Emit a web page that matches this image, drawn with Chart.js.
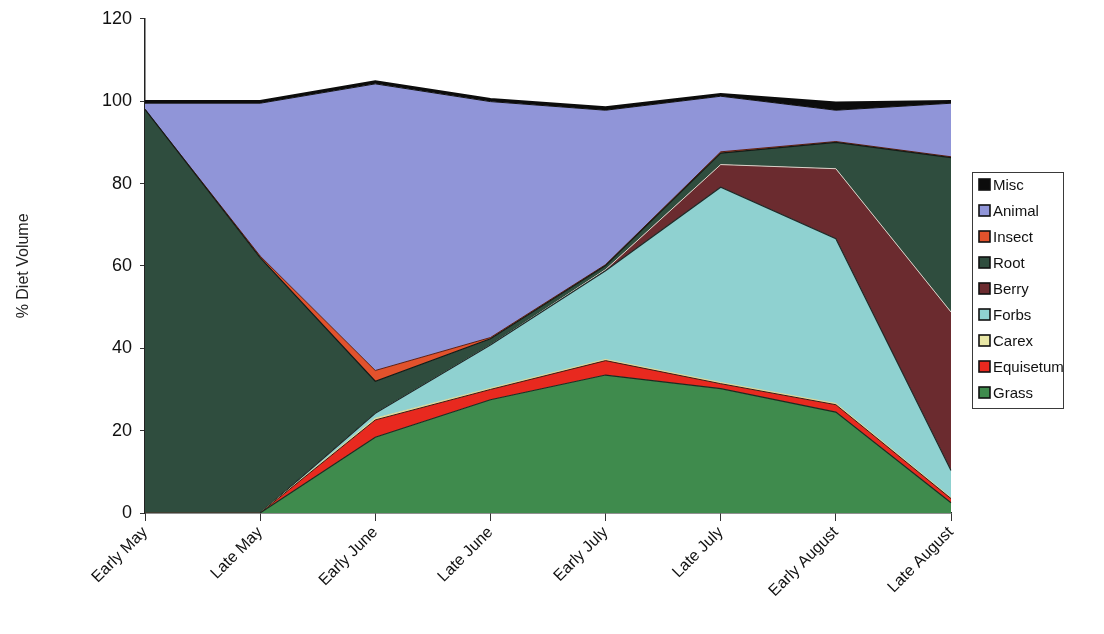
<!DOCTYPE html>
<html>
<head>
<meta charset="utf-8">
<title>% Diet Volume</title>
<script src="https://cdn.jsdelivr.net/npm/chart.js@4.4.1/dist/chart.umd.min.js"></script>
<style>
  html, body { margin: 0; padding: 0; background: #ffffff; }
  #wrap { width: 1104px; height: 634px; position: relative; }
</style>
</head>
<body>
<div id="wrap"><canvas id="chart" width="1104" height="634"></canvas></div>
<script>
// Half-month sampling periods
const categories = ['Early May', 'Late May', 'Early June', 'Late June', 'Early July', 'Late July', 'Early August', 'Late August'];

// Percent of diet volume per food class, stacked bottom to top
const grass     = [0, 0, 18.4, 27.5, 33.5, 30.2, 24.5, 2.5];
const equisetum = [0, 0, 4.2, 2.5, 3.5, 1.2, 1.8, 1.0];
const carex     = [0, 0, 0.4, 0.3, 0.3, 0.3, 0.3, 0.2];
const forbs     = [0, 0, 1.2, 10.5, 21.5, 47.4, 40.0, 6.6];
const berry     = [0, 0, 0, 0, 0.3, 5.5, 17.0, 38.5];
const root      = [98, 62, 7.8, 1.5, 1.0, 2.8, 6.4, 37.5];
const insect    = [0, 0.4, 2.6, 0.3, 0.2, 0.3, 0.2, 0.2];
const animal    = [1.5, 37.1, 69.6, 57.3, 37.5, 13.5, 7.6, 13.0];
const misc      = [0.5, 0.5, 0.6, 0.6, 0.7, 0.5, 1.8, 0.5];

const yTicks = [0, 20, 40, 60, 80, 100, 120];

const FONT = "'Liberation Sans', Arial, Helvetica, sans-serif";

function layer(label, data, fill, edge, width, fillMode) {
  return {
    label: label,
    data: data,
    backgroundColor: fill,
    borderColor: edge,
    borderWidth: width,
    fill: fillMode,
    pointRadius: 0,
    pointHoverRadius: 0,
    tension: 0
  };
}

const datasets = [
  layer('Grass',     grass,     '#3f8b4d', '#1d2a20', 1.2, 'origin'),
  layer('Equisetum', equisetum, '#e8291f', '#3a1a12', 1.0, '-1'),
  layer('Carex',     carex,     '#e9e7a6', '#d8d49a', 1.0, '-1'),
  layer('Forbs',     forbs,     '#8fd1d0', '#1e2a28', 1.2, '-1'),
  layer('Berry',     berry,     '#6b2b2f', '#d9d2c8', 1.0, '-1'),
  layer('Root',      root,      '#2f4d3e', '#141a16', 1.2, '-1'),
  layer('Insect',    insect,    '#e2522c', '#5a1e14', 1.0, '-1'),
  layer('Animal',    animal,    '#9095d8', '#111111', 1.0, '-1'),
  layer('Misc',      misc,      '#0c0c0c', '#0c0c0c', 2.4, '-1')
];

// Boxed legend at the right, listing the layers top to bottom
const boxLegend = {
  id: 'boxLegend',
  afterDraw(chart) {
    const ctx = chart.ctx;
    const x0 = 972, y0 = 172, w = 91, h = 236;
    const rowGap = 26, firstRow = 185;
    ctx.save();
    ctx.strokeStyle = '#3a3a3a';
    ctx.lineWidth = 1;
    ctx.strokeRect(x0 + 0.5, y0 + 0.5, w, h);
    ctx.font = '15px ' + FONT;
    ctx.textBaseline = 'middle';
    ctx.textAlign = 'left';
    const items = chart.data.datasets.slice().reverse();
    items.forEach((ds, i) => {
      const cy = firstRow + i * rowGap;
      ctx.fillStyle = ds.backgroundColor;
      ctx.fillRect(979, cy - 6, 11, 11);
      ctx.strokeStyle = '#111111';
      ctx.lineWidth = 1.6;
      ctx.strokeRect(979, cy - 6, 11, 11);
      ctx.fillStyle = '#111111';
      ctx.fillText(ds.label, 993, cy + 1);
    });
    ctx.restore();
  }
};

new Chart(document.getElementById('chart'), {
  type: 'line',
  data: { labels: categories, datasets: datasets },
  plugins: [boxLegend],
  options: {
    responsive: false,
    animation: false,
    events: [],
    layout: { padding: { left: 10, right: 153, top: 16, bottom: 0 } },
    plugins: {
      legend: { display: false },
      tooltip: { enabled: false }
    },
    elements: { line: { borderJoinStyle: 'miter' } },
    scales: {
      x: {
        offset: false,
        grid: {
          display: true,
          drawOnChartArea: false,
          drawTicks: true,
          tickLength: 8,
          color: '#333333',
          lineWidth: 1
        },
        border: { display: true, color: '#222222', width: 1.5 },
        ticks: {
          autoSkip: false,
          maxRotation: 45,
          minRotation: 45,
          padding: 2,
          color: '#111111',
          font: { family: FONT, size: 16 }
        },
        afterFit(scale) { scale.height = 121; }
      },
      y: {
        stacked: true,
        min: 0,
        max: 120,
        afterBuildTicks(scale) { scale.ticks = yTicks.map(v => ({ value: v })); },
        grid: {
          display: true,
          drawOnChartArea: false,
          drawTicks: true,
          tickLength: 5,
          color: '#333333',
          lineWidth: 1
        },
        border: { display: true, color: '#222222', width: 1.5 },
        ticks: {
          padding: 8,
          color: '#111111',
          font: { family: FONT, size: 18 }
        },
        title: {
          display: true,
          text: '% Diet Volume',
          color: '#222222',
          font: { family: FONT, size: 16 },
          padding: { top: 4, bottom: 4 }
        },
        afterFit(scale) { scale.width = 135; }
      }
    }
  }
});
</script>
</body>
</html>
